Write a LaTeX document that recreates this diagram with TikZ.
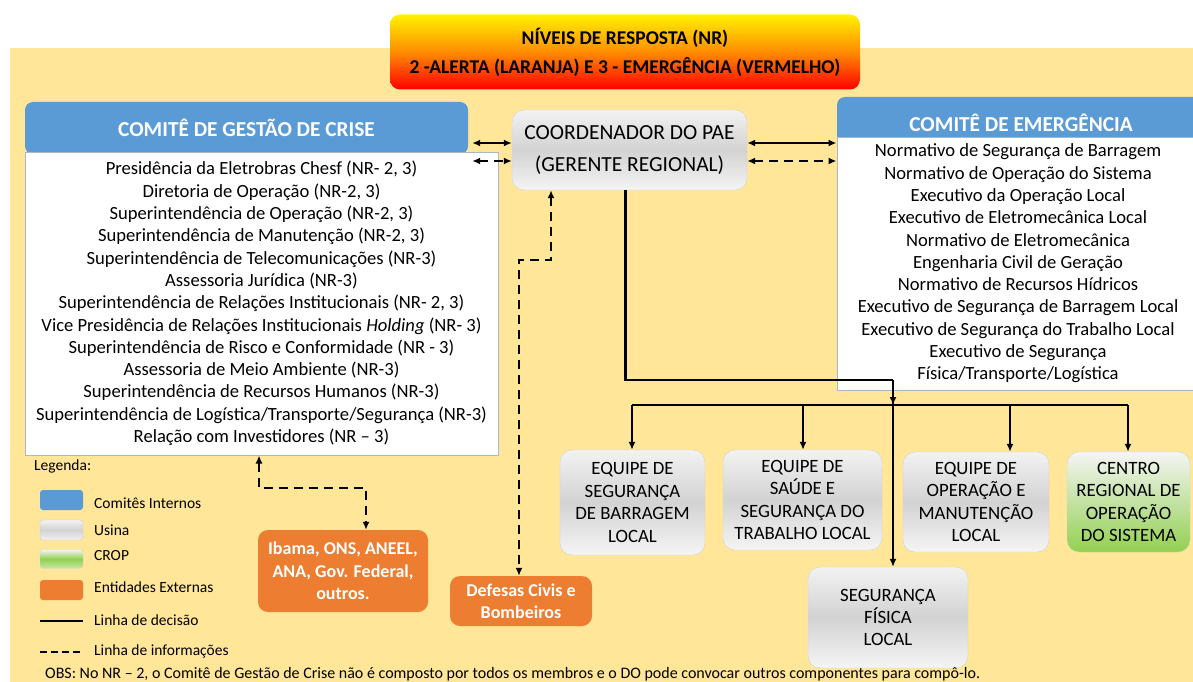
\documentclass[tikz,border=0pt]{standalone}
\usepackage{fontspec}
\setmainfont{Carlito}
\usetikzlibrary{arrows.meta}
\definecolor{panel}{HTML}{FFE699}
\definecolor{comblue}{HTML}{5B9BD5}
\definecolor{extorange}{HTML}{ED7D31}
\definecolor{cropgreen}{HTML}{92D050}
\definecolor{edgegray}{HTML}{A9B8C8}
\begin{document}
\begin{tikzpicture}[x=1pt, y=-1pt, >={Latex[length=8pt,width=7pt]},
    usina/.style={rounded corners=12pt, draw=gray!35, top color=gray!10, bottom color=gray!8, middle color=gray!35,
      align=center, inner sep=0pt, font=\fontsize{18.8}{22.4}\selectfont},
    externa/.style={rounded corners=10pt, fill=extorange, text=white, align=center, inner sep=0pt,
      font=\bfseries\fontsize{18}{22.5}\selectfont},
    comhead/.style={rounded corners=8pt, fill=comblue, text=white, inner sep=0pt,
      font=\bfseries\fontsize{21.3}{24}\selectfont},
    combody/.style={fill=white, draw=edgegray, line width=1pt, align=center, inner sep=0pt,
      font=\fontsize{18.6}{22.3}\selectfont},
    dec/.style={line width=2.4pt},
    info/.style={line width=2.4pt, dash pattern=on 9pt off 6pt},
    legtext/.style={anchor=west, inner sep=0pt, font=\fontsize{15.5}{18}\selectfont}]
  \useasboundingbox (0,0) rectangle (1193,682);
  \fill[panel] (10,48) rectangle (1193,682);

  % title
  \node[rounded corners=10pt, top color=yellow!90!orange, bottom color=red, middle color=orange!90!yellow,
    minimum width=470, minimum height=75, align=center, inner sep=0pt,
    font=\bfseries\fontsize{19.5}{29}\selectfont] (title) at (625,52)
    {NÍVEIS DE RESPOSTA (NR)\\2 -ALERTA (LARANJA) E 3 - EMERGÊNCIA (VERMELHO)};

  % committees
  \node[comhead, minimum width=443, minimum height=52] (crisehead) at (246.5,128) {COMITÊ DE GESTÃO DE CRISE};
  \node[combody, minimum width=473, minimum height=303] (crisebody) at (261.5,303.5)
    {Presidência da Eletrobras Chesf (NR- 2, 3)\\
     Diretoria de Operação (NR-2, 3)\\
     Superintendência de Operação (NR-2, 3)\\
     Superintendência de Manutenção (NR-2, 3)\\
     Superintendência de Telecomunicações (NR-3)\\
     Assessoria Jurídica (NR-3)\\
     Superintendência de Relações Institucionais (NR- 2, 3)\\
     Vice Presidência de Relações Institucionais \textit{Holding} (NR- 3)\\
     Superintendência de Risco e Conformidade (NR - 3)\\
     Assessoria de Meio Ambiente (NR-3)\\
     Superintendência de Recursos Humanos (NR-3)\\
     Superintendência de Logística/Transporte/Segurança (NR-3)\\
     Relação com Investidores (NR – 3)};

  \node[comhead, minimum width=368, minimum height=52] (emerghead) at (1021,123) {COMITÊ DE EMERGÊNCIA};
  \node[combody, minimum width=362, minimum height=253] (emergbody) at (1018,263.5)
    {Normativo de Segurança de Barragem\\
     Normativo de Operação do Sistema\\
     Executivo da Operação Local\\
     Executivo de Eletromecânica Local\\
     Normativo de Eletromecânica\\
     Engenharia Civil de Geração\\
     Normativo de Recursos Hídricos\\
     Executivo de Segurança de Barragem Local\\
     Executivo de Segurança do Trabalho Local\\
     Executivo de Segurança\\
     Física/Transporte/Logística};

  \node[usina, minimum width=235, minimum height=80, font=\fontsize{21.5}{32}\selectfont] (coord) at (629.5,150)
    {COORDENADOR DO PAE\\(GERENTE REGIONAL)};

  % teams
  \node[usina, minimum width=145, minimum height=105] (eqbarragem) at (632.5,502.5) {EQUIPE DE\\SEGURANÇA\\DE BARRAGEM\\LOCAL};
  \node[usina, minimum width=159, minimum height=100] (eqsaude) at (802.5,500) {EQUIPE DE\\SAÚDE E\\SEGURANÇA DO\\TRABALHO LOCAL};
  \node[usina, minimum width=146, minimum height=100] (eqoperacao) at (976,502) {EQUIPE DE\\OPERAÇÃO E\\MANUTENÇÃO\\LOCAL};
  \node[usina, minimum width=123, minimum height=100, top color=gray!8, middle color=cropgreen!45, bottom color=cropgreen] (crop) at (1128.5,502)
    {CENTRO\\REGIONAL DE\\OPERAÇÃO\\DO SISTEMA};
  \node[usina, minimum width=160, minimum height=101] (fisica) at (888,617.5) {SEGURANÇA\\FÍSICA\\LOCAL};

  % external entities
  \node[externa, minimum width=170, minimum height=82] (ibama) at (343,571) {Ibama, ONS, ANEEL,\\ANA, Gov. Federal,\\outros.};
  \node[externa, minimum width=142, minimum height=50] (defesas) at (521,601) {Defesas Civis e\\Bombeiros};

  % committee links
  \draw[dec,<->] ([xshift=4pt,yshift=7pt]crisehead.east |- coord.west) -- ([yshift=7pt]coord.west);
  \draw[info,<->] ([xshift=4pt,yshift=-11pt]crisehead.east |- coord.west) -- ([yshift=-11pt]coord.west);
  \draw[dec,<->] ([yshift=7pt]coord.east) -- ([yshift=7pt]coord.east -| emergbody.west);
  \draw[info,<->] ([yshift=-11pt]coord.east) -- ([yshift=-11pt]coord.east -| emergbody.west);

  % decision lines
  \coordinate (junction) at (893,380);
  \coordinate (bar1) at (632,405);
  \coordinate (bar2) at (803,405);
  \coordinate (bar3) at (893,405);
  \coordinate (bar4) at (1010,405);
  \coordinate (bar5) at (1128,405);
  \draw[dec] ([xshift=-4pt]coord.south) |- (junction);
  \draw[dec,->] (junction) -- (bar3);
  \draw[dec,->] (junction) -- (junction |- fisica.north);
  \draw[dec] (bar1) -- (bar5);
  \draw[dec,->] (bar1) -- (bar1 |- eqbarragem.north);
  \draw[dec,->] (bar2) -- (bar2 |- eqsaude.north);
  \draw[dec,->] (bar4) -- (bar4 |- eqoperacao.north);
  \draw[dec,->] (bar5) -- (bar5 |- crop.north);

  % information lines
  \coordinate (ibamaL) at (259,488);
  \coordinate (ibamaR) at (366,488);
  \draw[info,<->] (ibamaL |- crisebody.south) -- (ibamaL) -- (ibamaR) -- (ibamaR |- ibama.north);
  \coordinate (defesasR) at (551,260);
  \coordinate (defesasL) at (519,260);
  \draw[info,<->] (defesasR |- coord.south) -- (defesasR) -- (defesasL) -- (defesasL |- defesas.north);

  % legend
  \node[legtext] (legenda) at (34,466) {Legenda:};
  \node[rounded corners=3pt, fill=comblue, minimum width=43, minimum height=20] (keyblue) at (61.5,500) {};
  \node[rounded corners=3pt, draw=gray!40, top color=gray!10, bottom color=gray!10, middle color=gray!35, minimum width=43, minimum height=20] (keygray) at (61.5,530) {};
  \node[rounded corners=3pt, draw=gray!30, top color=gray!8, bottom color=cropgreen!50, middle color=cropgreen, minimum width=43, minimum height=19] (keygreen) at (61.5,559) {};
  \node[rounded corners=3pt, fill=extorange, minimum width=43, minimum height=20] (keyorange) at (61.5,590) {};
  \node[legtext] at (94,503) {Comitês Internos};
  \node[legtext] at (94,530) {Usina};
  \node[legtext] at (94,556) {CROP};
  \node[legtext] at (94,587) {Entidades Externas};
  \draw[line width=2pt] (40,621) -- (83,621);
  \node[legtext] at (94,620) {Linha de decisão};
  \draw[line width=2pt, dash pattern=on 7pt off 4pt] (40,652) -- (83,652);
  \node[legtext] at (94,651) {Linha de informações};

  \node[legtext, font=\fontsize{16}{18}\selectfont] (obs) at (45,674)
    {OBS: No NR – 2, o Comitê de Gestão de Crise não é composto por todos os membros e o DO pode convocar outros componentes para compô-lo.};
\end{tikzpicture}
\end{document}
